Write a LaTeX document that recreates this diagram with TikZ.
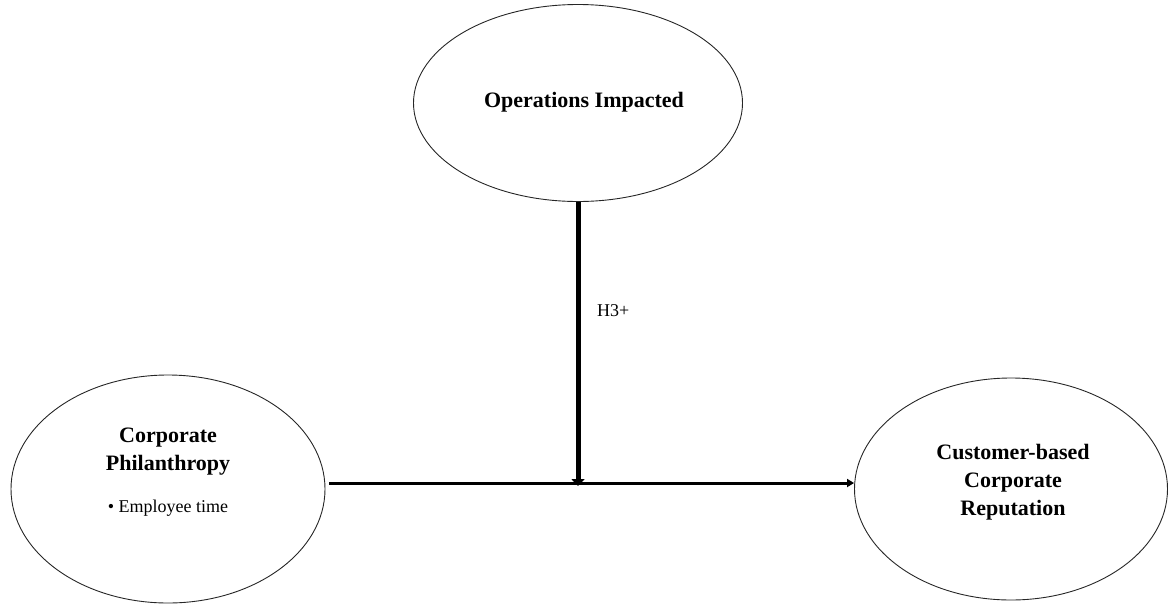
\documentclass[tikz,border=0pt]{standalone}
\usepackage{fontspec}
\setmainfont{Liberation Serif}
\usetikzlibrary{shapes.geometric,arrows.meta}
\tikzset{
  construct/.style={ellipse, draw=black!85, line width=0.9pt, inner sep=0pt},
  title/.style={font=\fontsize{22}{28}\selectfont\bfseries, align=center, inner sep=0pt},
  note/.style={font=\fontsize{18}{22}\selectfont, inner sep=0pt},
  path link/.style={line width=3pt, -{Triangle[length=7pt,width=8pt]}},
  mod link/.style={line width=5pt, -{Triangle[length=7pt,width=13pt]}}
}
\begin{document}
\begin{tikzpicture}[x=1pt,y=-1pt]
\useasboundingbox (0,0) rectangle (1168,606);
% the three constructs
\node[construct, minimum width=329pt, minimum height=197pt] (ops) at (578,103) {};
\node[construct, minimum width=314pt, minimum height=228pt] (phil) at (168,489) {};
\node[construct, minimum width=313pt, minimum height=222pt] (rep) at (1011,489) {};
% labels (base anchor sits on the last line)
\node[title, anchor=base] (opsT) at (584,107) {Operations Impacted};
\node[title, anchor=base] (philT) at (168,470) {Corporate\\Philanthropy};
\node[note, anchor=base] (philN) at (168,512) {\textbullet\ Employee time};
\node[title, anchor=base] (repT) at (1013,515) {Customer-based\\Corporate\\Reputation};
% direct effect and moderating path
\coordinate (meet) at (ops.south |- 0,483);
\draw[path link] ([xshift=4pt]phil.east |- meet) -- (rep.west |- meet);
\draw[mod link] (ops.south) -- ([yshift=-3pt]meet);
\node[note, anchor=base west] (h3) at (597,316) {H3+};
\end{tikzpicture}
\end{document}
